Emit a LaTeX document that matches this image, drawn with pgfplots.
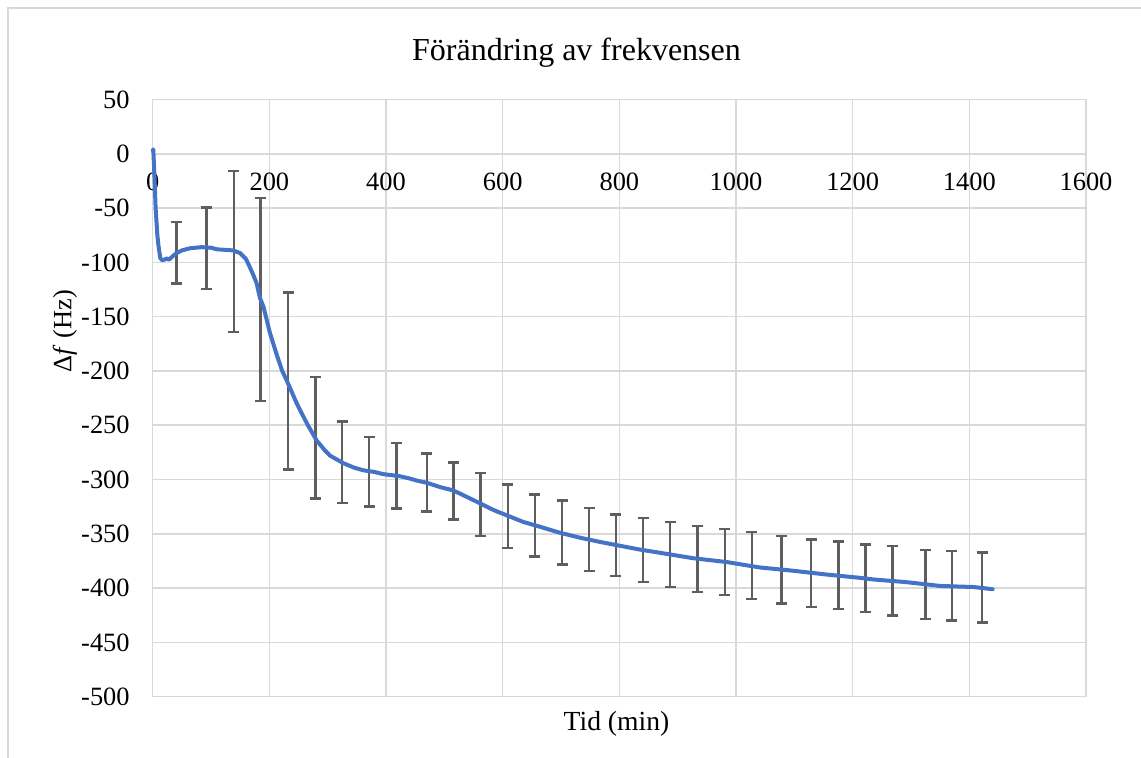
\documentclass[border=0pt]{standalone}
\usepackage{fontspec}
\setmainfont{Liberation Serif}
\usepackage{pgfplots}
\usepackage{pgfplotstable}
\pgfplotsset{compat=1.18}
\definecolor{lineblue}{HTML}{4472C4}
\definecolor{errgrey}{HTML}{5E5E5E}
\definecolor{gridgrey}{HTML}{D9D9D9}

% Frequency change over time (min, Hz)
\pgfplotstableread{
t f
0 3
1 4
3 -20
5 -50
8 -75
10 -85
13 -96
16 -98
20 -97.5
24 -96.5
28 -97.5
35 -94
41 -91.5
50 -89
64 -87
84 -86
100 -86.5
110 -88
125 -88.5
138 -89
150 -91.5
160 -97
167 -105
172 -111
178 -119
184 -133
190 -141
201 -165
212 -184
222 -200
230 -209
247 -230
264 -248
281 -264
295 -273
304 -278
327 -285
345 -289
361 -291.5
380 -293
395 -295
410 -296
424 -297
440 -299
453 -301
470 -303
493 -307
515 -310
527 -313
550 -319
584 -328
607 -333
635 -339
664 -343.5
698 -349
732 -353.5
767 -357.5
801 -361
835 -364.5
870 -367.5
904 -370.5
927 -372.5
984 -376
1041 -381
1098 -384
1155 -387.5
1212 -390.5
1235 -392
1292 -394.5
1350 -398
1407 -399
1440 -401
}\curve

% Means with standard deviation at the sampling times
\pgfplotstableread{
t m e
40.5 -91.2 28.1
92 -87.0 37.7
139 -90.0 74.4
185 -134.2 93.5
232 -209.1 81.5
279 -261.5 55.9
325 -284.2 37.5
371 -292.8 31.9
418 -296.6 30.0
470 -302.6 26.7
516 -310.5 26.3
562 -322.8 29.0
609 -333.7 29.2
655 -342.3 28.5
702 -348.7 29.5
748 -355.2 28.9
794 -360.4 28.3
841 -364.9 29.4
887 -369.0 29.8
934 -373.0 30.4
981 -375.8 30.4
1027 -379.3 30.9
1078 -383.0 31.2
1129 -386.2 31.0
1176 -388.2 31.2
1222 -390.8 31.0
1268 -393.2 32.0
1325 -396.6 31.7
1370 -397.7 32.1
1422 -399.4 32.2
}\bars

\begin{document}
\begin{tikzpicture}
\begin{axis}[
  at={(0pt,0pt)}, anchor=south west,
  scale only axis, width=466.65pt, height=298.6pt,
  xmin=0, xmax=1600, ymin=-500, ymax=50,
  xtick={0,200,...,1600}, ytick={-500,-450,...,50},
  axis x line*=middle, axis y line*=left,
  hide obscured x ticks=false, hide obscured y ticks=false,
  axis line style={draw=gridgrey, line width=0.75pt},
  grid=major, major grid style={draw=gridgrey, line width=0.75pt},
  major tick length=0pt,
  /pgf/number format/1000 sep={},
  /pgf/number format/assume math mode=true,
  ticklabel style={font=\fontsize{13.2}{15}\selectfont, text=black},
  xticklabel style={anchor=north, yshift=-6.2pt},
  yticklabel style={anchor=east, xshift=-8pt},
  clip=false,
]
% standard deviation bars, no marker and no connecting line
\addplot[draw=none, mark=none, forget plot,
  error bars/.cd, y dir=both, y explicit,
  error mark=-,
  error bar style={draw=errgrey, solid, line width=1.2pt},
  error mark options={rotate=90, draw=errgrey, solid, line width=1.2pt, mark size=2.75pt}]
  table[x=t, y=m, y error=e] {\bars};
\addplot[color=lineblue, line width=2pt, mark=none, line join=round, line cap=round]
  table[x=t, y=f] {\curve};
\end{axis}
% chart area border
\draw[gridgrey, line width=0.75pt] (-72.35pt,-40pt) -- (-72.35pt,344.35pt) -- (500pt,344.35pt);
% titles
\node[anchor=base, font=\fontsize{16}{19}\selectfont] at (211.9pt,317.85pt) {Förändring av frekvensen};
\node[anchor=base, font=\fontsize{13.8}{16}\selectfont] at (231.9pt,-17.15pt) {Tid (min)};
\node[rotate=90, anchor=center, font=\fontsize{13.2}{16}\selectfont] at (-43.85pt,182.85pt) {Δ\textit{f} (Hz)};
\pgfresetboundingbox
\path[use as bounding box] (-76.35pt,-30.65pt) rectangle (494.15pt,348.35pt);
\end{tikzpicture}
\end{document}
